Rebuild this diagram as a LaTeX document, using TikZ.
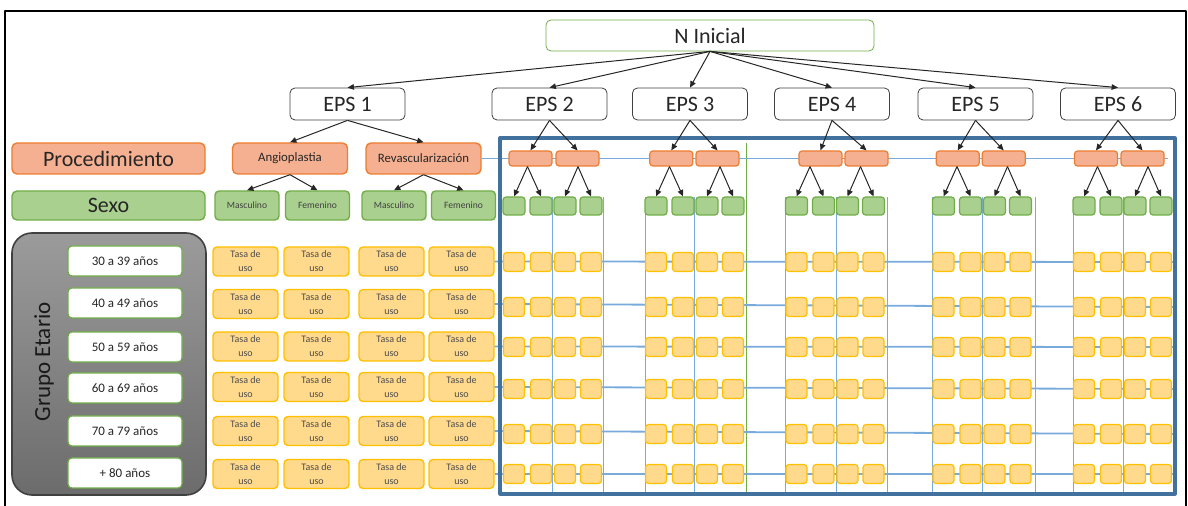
\documentclass[tikz,border=0pt]{standalone}
\usepackage{fontspec}
\setmainfont{Carlito}
\usepackage{tikz}
\usetikzlibrary{arrows.meta,calc}

\definecolor{procfill}{RGB}{245,176,145}
\definecolor{procline}{RGB}{237,125,49}
\definecolor{sexfill}{RGB}{169,208,142}
\definecolor{sexline}{RGB}{112,173,71}
\definecolor{tasafill}{RGB}{255,217,140}
\definecolor{tasaline}{RGB}{255,192,0}
\definecolor{frameblue}{RGB}{65,113,156}
\definecolor{gridblue}{RGB}{120,170,220}
\definecolor{txtdark}{RGB}{38,38,38}
\definecolor{grptop}{RGB}{155,155,155}
\definecolor{grpbot}{RGB}{108,108,108}

\begin{document}
\begin{tikzpicture}[x=0.5pt,y=-0.5pt,>={Triangle[length=3.2pt,width=2.8pt]},line join=round,
  bigfont/.style={font=\fontsize{11}{13}\selectfont,text=txtdark},
  epsbox/.style={draw=black!75,fill=white,rounded corners=2.5pt,minimum width=57.5pt,minimum height=16pt,inner sep=0pt,bigfont},
  labproc/.style={draw=procline,fill=procfill,line width=0.7pt,rounded corners=2.5pt,minimum width=96.5pt,minimum height=15.5pt,inner sep=0pt,bigfont},
  labsex/.style={draw=sexline,fill=sexfill,line width=0.7pt,rounded corners=2.5pt,minimum width=96.5pt,minimum height=14.5pt,inner sep=0pt,bigfont},
  procbox/.style={draw=procline,fill=procfill,line width=0.7pt,rounded corners=2.5pt,minimum width=57.5pt,minimum height=15.5pt,inner sep=0pt,font=\fontsize{6.4}{7}\selectfont,text=txtdark},
  sexbox/.style={draw=sexline,fill=sexfill,line width=0.7pt,rounded corners=2pt,minimum width=32pt,minimum height=14.5pt,inner sep=0pt,font=\fontsize{4.8}{5}\selectfont,text=black!75},
  tasabox/.style={draw=tasaline,fill=tasafill,line width=0.7pt,rounded corners=2pt,minimum width=32.5pt,minimum height=14.5pt,inner sep=0pt,align=center,font=\fontsize{5}{7}\selectfont,text=black!70},
  agebox/.style={draw=sexline,fill=white,line width=0.6pt,rounded corners=2pt,minimum width=57pt,minimum height=15pt,inner sep=0pt,font=\fontsize{6.5}{7}\selectfont,text=txtdark},
  procsmall/.style={draw=procline,fill=procfill,line width=0.6pt,rounded corners=1.5pt,minimum width=21.5pt,minimum height=7.5pt,inner sep=0pt},
  sexsmall/.style={draw=sexline,fill=sexfill,line width=0.6pt,rounded corners=1.5pt,minimum width=11pt,minimum height=9pt,inner sep=0pt},
  tasasmall/.style={draw=tasaline,fill=tasafill,line width=0.6pt,rounded corners=1.5pt,minimum width=10.5pt,minimum height=9.5pt,inner sep=0pt},
  grupo/.style={draw=black!75,line width=0.8pt,top color=grptop,bottom color=grpbot,rounded corners=10pt,minimum width=97pt,minimum height=131pt,inner sep=0pt},
  gridline/.style={draw=gridblue,line width=0.5pt},
  gridrow/.style={draw=gridblue,line width=0.9pt},
  arr/.style={->,draw=black!85,line width=0.5pt}]
  \useasboundingbox (0,0) rectangle (1188,506);
  % outer frame
  \draw[line width=1pt] (5,506) |- (1186,11) -- (1186,506);

  % top level
  \node[epsbox,draw=sexline,minimum width=164pt,minimum height=15.5pt] (ninicial) at (710,35.5) {N Inicial};
  \foreach \e/\x in {1/347.5,2/549.5,3/690,4/832,5/975.5,6/1118}
    \node[epsbox] (eps\e) at (\x,104) {EPS \e};
  \foreach \e in {1,...,6}
    \draw[arr] (ninicial.south) -- (eps\e.north);

  % row labels
  \node[labproc] (proc) at (108.5,158.5) {Procedimiento};
  \node[labsex] (sexo) at (108.5,205.5) {Sexo};
  \node[grupo] (grupo) at (109,364) {};
  \node[rotate=90,font=\fontsize{11.5}{13}\selectfont,text=black!90] (grupolbl) at (44,362) {Grupo Etario};
  \foreach \r/\y/\t in {1/261/30 a 39 años,2/303/40 a 49 años,3/347/50 a 59 años,4/388/60 a 69 años,5/431/70 a 79 años,6/473/+ 80 años}
    \node[agebox] (age\r) at (125,\y) {\t};

  % grid behind the small boxes
  \foreach \x in {552,603,645,694,785,836,887,932.5,982.5,1035,1073,1123}
    \draw[gridline] (\x,197) -- (\x,494);
  \draw[draw=sexline,line width=0.5pt] (746,143) -- (746,494);

  % EPS 1
  \node[procbox] (angio) at (290,158.5) {Angioplastia};
  \node[procbox] (revasc) at (423.5,158.5) {Revascularización};
  \node[sexbox] (masc1) at (247,205.5) {Masculino};
  \node[sexbox] (fem1) at (317.5,205.5) {Femenino};
  \node[sexbox] (masc2) at (394,205.5) {Masculino};
  \node[sexbox] (fem2) at (463.5,205.5) {Femenino};
  \draw[arr] (eps1.south) -- (angio.north);
  \draw[arr] (eps1.south) -- (revasc.north);
  \draw[arr] (angio.south) -- (masc1.north);
  \draw[arr] (angio.south) -- (fem1.north);
  \draw[arr] (revasc.south) -- (masc2.north);
  \draw[arr] (revasc.south) -- (fem2.north);
  \foreach \r/\y in {1/261.5,2/304,3/346.5,4/387,5/431,6/474}
    \foreach \c/\x in {1/245.5,2/316.5,3/391.5,4/461.5}
      \node[tasabox] (t-\r-\c) at (\x,\y) {Tasa de\\uso};

  % EPS 2 to 6
  \draw[gridline,line width=0.9pt] (revasc.east) -- (1168,158.5);
  \foreach \r/\y in {1/262,2/307,3/347,4/389,5/434,6/474}
    \draw[gridrow] (t-\r-4.east) -- (1173,\y);
  \draw[draw=frameblue,line width=1.6pt] (500,138) rectangle (1175,494);
  \foreach \e/\g/\a/\b in {2/503/530.5/577.5,3/645/671.3/717.5,4/785.5/820.5/866.5,5/932.5/957.7/1003.7,6/1073/1096/1142.5} {
    \node[procsmall] (p-\e-1) at (\a,158.5) {};
    \node[procsmall] (p-\e-2) at (\b,158.5) {};
    \foreach \c/\dx in {1/11,2/38,3/62,4/88} {
      \node[sexsmall] (s-\e-\c) at (\g+\dx,206) {};
      \foreach \r/\y in {1/262,2/307,3/347,4/389,5/434,6/474}
        \node[tasasmall] (u-\e-\c-\r) at (\g+\dx,\y) {};
    }
    \coordinate (m-\e-1) at ($(s-\e-1)!.5!(s-\e-2)$);
    \coordinate (m-\e-2) at ($(s-\e-3)!.5!(s-\e-4)$);
    \draw[arr] (eps\e.south) -- (p-\e-1.north);
    \draw[arr] (eps\e.south) -- (p-\e-2.north);
    \draw[arr] (p-\e-1.south -| m-\e-1) -- (s-\e-1.north);
    \draw[arr] (p-\e-1.south -| m-\e-1) -- (s-\e-2.north);
    \draw[arr] (p-\e-2.south -| m-\e-2) -- (s-\e-3.north);
    \draw[arr] (p-\e-2.south -| m-\e-2) -- (s-\e-4.north);
  }
\end{tikzpicture}
\end{document}
